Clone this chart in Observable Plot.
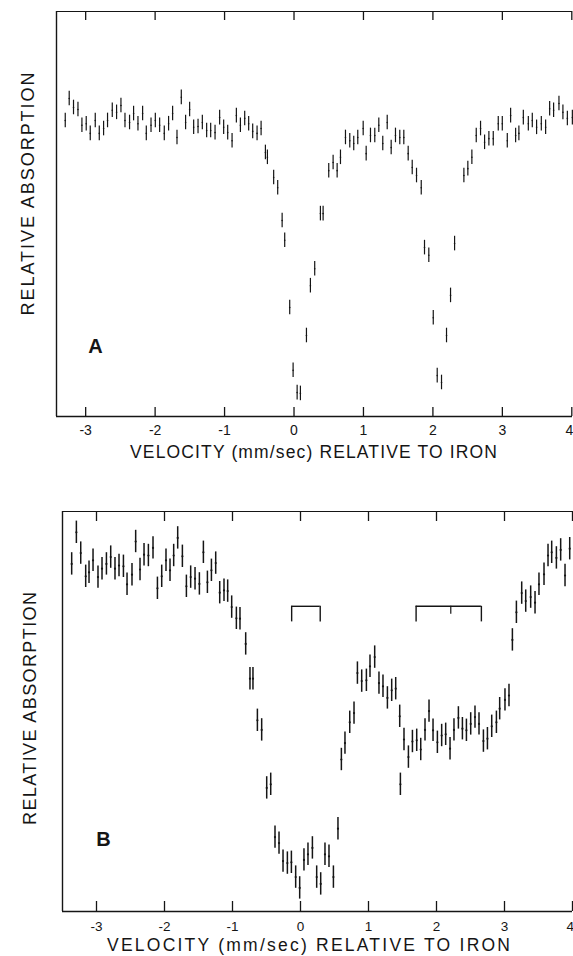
<!DOCTYPE html>
<html><head><meta charset="utf-8">
<script src="https://cdn.jsdelivr.net/npm/d3@7"></script>
<script src="https://cdn.jsdelivr.net/npm/@observablehq/plot@0.6"></script>
<style>
html,body{margin:0;padding:0;background:#fff;}
#chart{width:573px;height:956px;}
#chart svg{display:block;}
</style></head><body><div id="chart"></div>
<script>
// ---- data ----
const tickValues = [-3, -2, -1, 0, 1, 2, 3, 4];
const tickLabels = ["-3", "-2", "-1", "0", "1", "2", "3", "4"];
const xTitle = "VELOCITY (mm/sec) RELATIVE TO IRON";
const yTitle = "RELATIVE ABSORPTION";
const panelLabels = ["A", "B"];

const velA = [-3.294,-3.237,-3.175,-3.111,-3.054,-2.992,-2.934,-2.862,-2.804,-2.742,
  -2.685,-2.617,-2.555,-2.492,-2.434,-2.368,-2.310,-2.247,-2.180,-2.127,
  -2.059,-1.997,-1.935,-1.868,-1.806,-1.748,-1.685,-1.623,-1.561,-1.503,
  -1.445,-1.382,-1.320,-1.258,-1.200,-1.137,-1.071,-1.013,-0.955,-0.892,
  -0.830,-0.772,-0.710,-0.653,-0.595,-0.532,-0.474,-0.412,-0.383,-0.293,
  -0.235,-0.171,-0.134,-0.062,-0.013,0.045,0.092,0.179,0.236,0.298,
  0.380,0.419,0.500,0.563,0.621,0.669,0.741,0.803,0.860,0.918,
  0.996,1.039,1.101,1.163,1.221,1.278,1.342,1.399,1.461,1.523,
  1.581,1.644,1.702,1.764,1.832,1.879,1.941,2.005,2.062,2.124,
  2.196,2.254,2.312,2.446,2.503,2.561,2.624,2.686,2.744,2.806,
  2.869,2.941,2.999,3.071,3.119,3.191,3.238,3.302,3.374,3.431,
  3.493,3.561,3.623,3.681,3.738,3.815,3.872,3.936,4.008];
const absA = [73.1,78.5,76.3,75.8,71.9,72.3,69.9,73.1,69.9,71.1,
  73.1,75.6,75.1,76.8,73.1,72.6,74.8,72.3,74.8,69.9,
  71.9,73.1,71.9,69.9,72.3,74.8,68.9,78.8,72.6,75.8,
  71.4,71.6,72.6,70.6,70.6,70.1,73.8,71.4,70.1,68.1,
  74.3,71.9,73.6,72.3,70.4,69.9,71.1,65.2,64.0,59.0,
  56.5,48.4,43.5,26.9,11.4,5.9,5.7,20.0,32.3,36.5,
  50.1,50.1,60.7,62.7,60.7,64.0,68.9,68.1,67.4,68.9,
  71.1,64.9,69.4,69.4,71.9,67.4,72.6,66.4,69.4,68.9,
  68.9,64.9,61.5,59.5,56.5,41.7,39.8,24.4,10.1,8.4,
  20.0,29.9,42.7,59.5,61.2,64.0,69.4,71.1,67.7,68.6,
  68.6,72.3,72.3,68.1,74.3,69.4,69.9,73.8,72.3,73.1,
  71.4,72.3,71.4,76.0,75.6,77.3,75.1,73.6,73.8];
const errA = 1.8;

const velB = [-3.365,-3.296,-3.232,-3.159,-3.110,-3.051,-2.978,-2.919,-2.854,-2.791,
  -2.728,-2.669,-2.604,-2.551,-2.478,-2.424,-2.360,-2.301,-2.237,-2.169,
  -2.104,-2.041,-1.978,-1.919,-1.865,-1.806,-1.737,-1.678,-1.615,-1.551,
  -1.487,-1.428,-1.369,-1.310,-1.247,-1.188,-1.125,-1.071,-1.012,-0.943,
  -0.890,-0.806,-0.743,-0.699,-0.634,-0.571,-0.497,-0.438,-0.375,-0.316,
  -0.257,-0.193,-0.134,-0.071,-0.012,0.051,0.110,0.175,0.238,0.297,
  0.360,0.419,0.484,0.551,0.601,0.654,0.724,0.787,0.837,0.900,
  0.969,1.022,1.091,1.154,1.213,1.278,1.341,1.400,1.459,1.469,
  1.522,1.587,1.646,1.709,1.768,1.831,1.890,1.949,2.013,2.076,
  2.135,2.199,2.257,2.322,2.381,2.440,2.503,2.566,2.625,2.690,
  2.749,2.812,2.881,2.929,3.007,3.066,3.116,3.175,3.253,3.312,
  3.385,3.449,3.507,3.581,3.640,3.694,3.763,3.826,3.890,3.959];
const absB = [86.9,94.8,89.6,83.8,84.8,87.8,83.6,85.7,86.9,88.6,
  85.7,86.5,86.3,81.8,84.2,92.5,85.5,89.2,89.0,90.9,
  80.8,83.8,87.8,85.3,89.0,93.4,88.8,81.3,83.6,83.2,
  81.9,89.8,82.3,85.3,87.1,79.7,80.3,80.1,76.1,73.3,
  73.2,66.9,58.2,58.2,47.8,45.4,30.9,31.8,18.6,17.1,
  12.6,12.1,12.3,8.6,5.9,12.9,14.3,15.9,8.6,6.9,
  14.3,13.8,8.6,20.7,38.0,42.1,47.3,49.6,59.6,57.6,
  57.8,61.3,63.6,57.1,56.3,53.4,55.3,55.7,48.8,31.8,
  43.0,38.6,42.5,42.8,40.5,45.4,50.1,45.3,42.3,44.0,
  44.3,40.7,45.4,48.4,45.7,45.3,46.9,48.6,46.9,42.6,
  43.2,46.3,47.3,50.7,52.9,54.0,67.9,74.8,79.6,77.6,
  78.6,77.2,81.8,84.3,89.0,89.8,88.4,90.4,84.0,90.7];
const errB = 2.8;

// line-position brackets drawn in panel B
const bracketStartB = [-0.13, 1.70];
const bracketEndB = [0.29, 2.66];
const bracketMidB = [2.21];
const bracketTopB = 76.3;
const bracketLegB = 72.4;
const bracketMidLegB = 74.3;

// ---- drawing ----
const INK = "#151515";
const FONT = "'Liberation Sans', Arial, Helvetica, sans-serif";

function panel(o) {
  const data = o.vel.map((v, i) => ({v, a: o.abs[i]}));
  const frameH = o.height - o.mt - o.mb;
  const ticks = tickValues.map((v, i) => ({v, s: tickLabels[i]}));
  const inner = ticks.slice(0, -1);
  const last = ticks.slice(-1);
  const svg = Plot.plot({
    width: 573, height: o.height,
    marginTop: o.mt, marginBottom: o.mb, marginLeft: o.ml, marginRight: o.mr,
    style: {fontFamily: FONT, color: INK, background: "white"},
    x: {domain: o.xDomain, axis: null},
    y: {domain: [0, 100], axis: null},
    marks: [
      Plot.text(inner, {x: "v", text: "s", frameAnchor: "bottom", textAnchor: "middle", lineAnchor: "top",
        dy: o.padTick, fontSize: o.fontTick, fill: INK}),
      Plot.text(last, {x: "v", text: "s", frameAnchor: "bottom", textAnchor: "end", lineAnchor: "top",
        dx: 1.5, dy: o.padTick, fontSize: o.fontTick, fill: INK}),
      Plot.ruleY([0], {stroke: INK, strokeWidth: 1.6}),
      Plot.ruleY([100], {stroke: INK, strokeWidth: 1.2}),
      Plot.ruleX([o.xDomain[0]], {stroke: INK, strokeWidth: 1.4}),
      Plot.ruleX(tickValues, {x: d => d, insetTop: frameH - o.tickLen, stroke: INK, strokeWidth: 1.3}),
      Plot.ruleX(tickValues, {x: d => d, insetBottom: frameH - o.tickLen, stroke: INK, strokeWidth: 1.3}),
      ...(o.extra || []),
      Plot.ruleX(data, {x: "v", y1: d => d.a - o.err, y2: d => d.a + o.err, stroke: INK, strokeWidth: o.barWidth}),
      Plot.dot(data, {x: "v", y: "a", r: o.dotR, fill: INK, stroke: null}),
      Plot.text([xTitle], {text: d => d, frameAnchor: "bottom", textAnchor: "middle", lineAnchor: "middle",
        dx: o.xtDx, dy: o.xtDy, fontSize: o.xtSize, fill: INK}),
      Plot.text([yTitle], {text: d => d, frameAnchor: "left", rotate: -90, textAnchor: "middle", lineAnchor: "middle",
        dx: o.ytDx, dy: o.ytDy, fontSize: o.ytSize, fill: INK}),
      Plot.text([o.label], {text: d => d, frameAnchor: "bottom-left", textAnchor: "middle", lineAnchor: "middle",
        dx: o.lbDx, dy: o.lbDy, fontSize: 20, fontWeight: "bold", fill: INK})
    ]
  });
  svg.querySelectorAll("text").forEach(t => {
    if (t.textContent === xTitle) { t.setAttribute("textLength", o.xtLen); t.setAttribute("lengthAdjust", "spacing"); }
    if (t.textContent === yTitle) { t.setAttribute("textLength", o.ytLen); t.setAttribute("lengthAdjust", "spacing"); }
  });
  return svg;
}

const chartA = panel({
  vel: velA, abs: absA, err: errA, label: panelLabels[0],
  height: 470, mt: 11, mb: 54, ml: 56, mr: 1, xDomain: [-3.42, 4.01],
  tickLen: 9, padTick: 9, fontTick: 14,
  xtDx: -1, xtDy: 36, xtSize: 17.5, xtLen: 367,
  ytDx: -28, ytDy: -20, ytSize: 18, ytLen: 243,
  lbDx: 39, lbDy: -70, barWidth: 1.2, dotR: 0.8
});

const chartB = panel({
  vel: velB, abs: absB, err: errB, label: panelLabels[1],
  height: 486, mt: 41, mb: 45, ml: 62, mr: 1, xDomain: [-3.5, 4.0],
  tickLen: 10, padTick: 10, fontTick: 13.5,
  xtDx: -9, xtDy: 34, xtSize: 17.5, xtLen: 403,
  ytDx: -32, ytDy: -3, ytSize: 18, ytLen: 233,
  lbDx: 41, lbDy: -72, barWidth: 1.5, dotR: 1.1,
  extra: [
    Plot.ruleY(bracketStartB.map((s, i) => ({x1: s, x2: bracketEndB[i]})),
      {x1: "x1", x2: "x2", y: bracketTopB, stroke: INK, strokeWidth: 1.4}),
    Plot.ruleX([...bracketStartB, ...bracketEndB], {x: d => d, y1: bracketLegB, y2: bracketTopB, stroke: INK, strokeWidth: 1.4}),
    Plot.ruleX(bracketMidB, {x: d => d, y1: bracketMidLegB, y2: bracketTopB, stroke: INK, strokeWidth: 1.2})
  ]
});

const root = document.getElementById("chart");
root.appendChild(chartA);
root.appendChild(chartB);
</script>
</body></html>
